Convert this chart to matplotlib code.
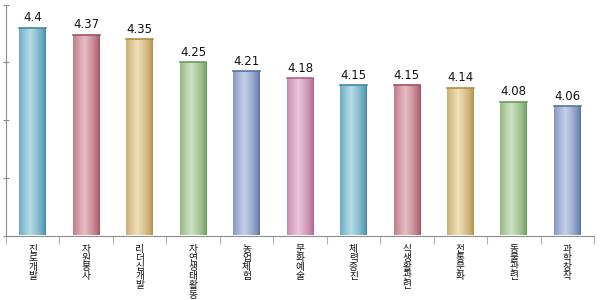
import numpy as np
import matplotlib.pyplot as plt
from matplotlib.colors import LinearSegmentedColormap

plt.rcParams['font.family'] = ['Noto Sans CJK KR', 'DejaVu Sans']

categories = ["진로개발", "자원봉사", "리더십개발", "자연생태활동", "농업체험", "문화예술",
              "체력증진", "식생활관련", "전통문화", "동물관련", "과학창작"]
values = [4.4, 4.37, 4.35, 4.25, 4.21, 4.18, 4.15, 4.15, 4.14, 4.08, 4.06]
value_labels = ["4.4", "4.37", "4.35", "4.25", "4.21", "4.18", "4.15", "4.15", "4.14", "4.08", "4.06"]

# (dark edge, light centre) per bar
palette = {
    "teal":  ("#3f8aa6", "#b4dbe7"),
    "rose":  ("#a4505f", "#e6bcc4"),
    "gold":  ("#b18e45", "#f0dfb8"),
    "green": ("#6a9a5b", "#cde3c2"),
    "blue":  ("#5871a6", "#c4d0ea"),
    "pink":  ("#b0608b", "#ecc6db"),
}
bar_colors = ["teal", "rose", "gold", "green", "blue", "pink",
              "teal", "rose", "gold", "green", "blue"]

fig = plt.figure(figsize=(6, 3), dpi=100)
ax = fig.add_axes([0.01, 0.215, 0.98, 0.77])

x = np.arange(len(categories))
bars = ax.bar(x, values, width=0.5, bottom=0, color="none", zorder=2)

ax.set_xlim(-0.5, len(categories) - 0.5)
ax.set_ylim(3.5, 4.5)

# cylinder-style horizontal gradient in each bar
prof = np.linspace(0, 1, 64)
shade = np.clip(1 - np.abs(prof - 0.42) / 0.58, 0, 1) ** 0.7
grad = np.tile(shade, (2, 1))
for b, cname in zip(bars, bar_colors):
    dark, light = palette[cname]
    cmap = LinearSegmentedColormap.from_list(cname, [dark, light])
    x0, w = b.get_x(), b.get_width()
    im = ax.imshow(grad, extent=[x0, x0 + w, 3.5, b.get_height()],
                   aspect="auto", cmap=cmap, vmin=0, vmax=1, zorder=2)
    im.set_clip_path(b)
    ax.plot([x0, x0 + w], [b.get_height()] * 2, color=dark, lw=1.2, zorder=3)

for xi, v, lab in zip(x, values, value_labels):
    ax.text(xi, v + 0.015, lab, ha="center", va="bottom", fontsize=8.5,
            family=["DejaVu Sans"], color="#111111")

# axes styling
for s in ["top", "right"]:
    ax.spines[s].set_visible(False)
ax.spines["left"].set_color("#8c8c8c")
ax.spines["bottom"].set_color("#8c8c8c")
ax.set_yticks(np.arange(3.5, 4.51, 0.25))
ax.set_yticklabels([])
ax.tick_params(axis="y", direction="inout", length=5, color="#8c8c8c")
ax.set_xticks(np.arange(-0.5, len(categories), 1.0))
ax.set_xticklabels([])
ax.tick_params(axis="x", direction="out", length=6, color="#b0b0b0")

for xi, c in zip(x, categories):
    ax.text(xi, -0.035, "\n".join(c), transform=ax.get_xaxis_transform(),
            ha="center", va="top", fontsize=7, linespacing=0.9, color="#111111",
            clip_on=False)

fig.savefig("out.png", dpi=100)
